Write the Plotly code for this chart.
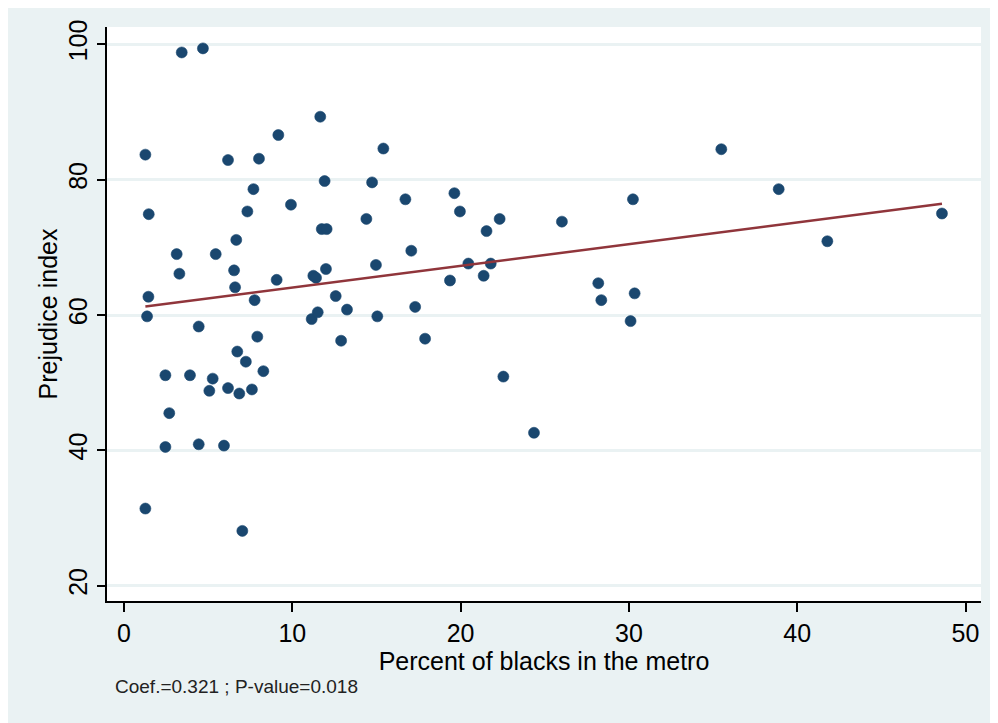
import plotly.graph_objects as go

# Data
pct_black = [1.27, 1.47, 1.45, 1.37, 1.27, 2.46, 2.69, 2.46, 3.13, 3.29,
             3.43, 3.92, 4.44, 4.44, 4.69, 5.07, 5.27, 5.45, 5.94, 6.18,
             6.18, 6.54, 6.60, 6.67, 6.73, 6.85, 7.03, 7.24, 7.33, 7.60,
             7.69, 7.76, 7.92, 8.02, 8.28, 9.07, 9.17, 9.92, 11.15, 11.25,
             11.41, 11.51, 11.66, 11.75, 11.92, 12.00, 12.04, 12.58, 12.90, 13.25,
             14.40, 14.74, 14.97, 15.05, 15.41, 16.72, 17.07, 17.30, 17.89, 19.37,
             19.63, 19.96, 20.46, 21.37, 21.54, 21.79, 22.32, 22.54, 24.36, 26.02,
             28.18, 28.36, 30.10, 30.24, 30.34, 35.49, 38.90, 41.79, 48.60]
prejudice = [83.7, 74.9, 62.7, 59.8, 31.4, 51.1, 45.5, 40.5, 69.0, 66.1,
             98.8, 51.1, 58.3, 40.9, 99.4, 48.8, 50.6, 69.0, 40.7, 82.9,
             49.2, 66.6, 64.1, 71.1, 54.6, 48.4, 28.1, 53.1, 75.3, 49.0,
             78.6, 62.2, 56.8, 83.1, 51.7, 65.2, 86.6, 76.3, 59.4, 65.8,
             65.5, 60.4, 89.3, 72.7, 79.8, 66.8, 72.7, 62.8, 56.2, 60.8,
             74.2, 79.6, 67.4, 59.8, 84.6, 77.1, 69.5, 61.2, 56.5, 65.1,
             78.0, 75.3, 67.6, 65.8, 72.4, 67.6, 74.2, 50.9, 42.6, 73.8,
             64.7, 62.2, 59.1, 77.1, 63.2, 84.5, 78.6, 70.9, 75.0]

fit_slope = 0.321
fit_intercept = 60.84
note_text = "Coef.=0.321 ; P-value=0.018"
x_title = "Percent of blacks in the metro"
y_title = "Prejudice index"
x_ticks = [0, 10, 20, 30, 40, 50]
y_ticks = [20, 40, 60, 80, 100]

fit_x = [min(pct_black), max(pct_black)]
fit_y = [fit_intercept + fit_slope * v for v in fit_x]

BG = "#EAF2F3"
NAVY = "#1A476F"
MAROON = "#90353B"

fig = go.Figure()
fig.add_trace(go.Scatter(
    x=pct_black, y=prejudice, mode="markers",
    marker=dict(size=11, color=NAVY, line=dict(width=0.6, color=NAVY)),
    hoverinfo="x+y",
))
fig.add_trace(go.Scatter(
    x=fit_x, y=fit_y, mode="lines",
    line=dict(color=MAROON, width=2.5),
))

fig.update_layout(
    width=990, height=715,
    margin=dict(l=99, r=17, t=19, b=122),
    paper_bgcolor=BG, plot_bgcolor="white",
    showlegend=False,
    font=dict(family="Liberation Sans, Arial, sans-serif", size=25, color="black"),
    xaxis=dict(
        range=[-1.01, 50.92], tickvals=x_ticks,
        ticks="outside", ticklen=9, tickwidth=1.5, tickcolor="black",
        showline=True, linecolor="black", linewidth=1.5,
        showgrid=False, zeroline=False,
        tickfont=dict(size=25),
        title=dict(text=x_title, standoff=0, font=dict(size=25)),
    ),
    yaxis=dict(
        range=[17.74, 102.56], tickvals=y_ticks, tickangle=-90,
        ticks="outside", ticklen=8, tickwidth=1.5, tickcolor="black",
        showline=True, linecolor="black", linewidth=1.5,
        showgrid=True, gridcolor=BG, gridwidth=2.5, zeroline=False,
        tickfont=dict(size=25),
        title=dict(text=y_title, standoff=0, font=dict(size=25)),
    ),
    annotations=[
        dict(text=note_text, xref="paper", yref="paper",
             x=0.0069, y=-0.1498, xanchor="left", yanchor="middle",
             showarrow=False, font=dict(size=19, color="#222222")),
    ],
)

fig.write_html("out.html")
